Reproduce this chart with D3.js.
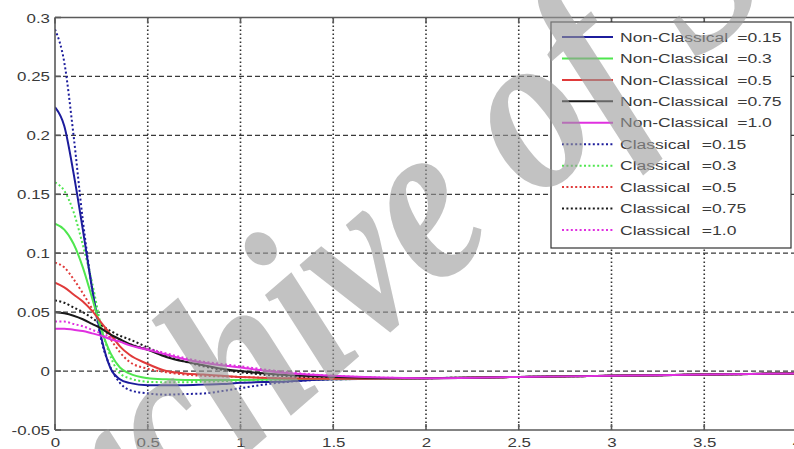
<!DOCTYPE html>
<html>
<head>
<meta charset="utf-8">
<script src="https://cdn.jsdelivr.net/npm/d3@7"></script>
<style>
  html, body { margin: 0; padding: 0; background: #fff; }
  svg { display: block; }
  text { font-family: "Liberation Sans", Arial, sans-serif; }
</style>
</head>
<body>
<svg id="chart" width="794" height="449"></svg>
<script>
// Sample positions along the horizontal axis
const xs = [0, 0.05, 0.1, 0.15, 0.2, 0.25, 0.3, 0.35, 0.4, 0.5, 0.6, 0.7, 0.8, 0.9, 1.0, 1.2, 1.5, 2.0, 2.5, 3.0, 3.5, 4.0];

// Non-classical responses
const nc015 = [0.224, 0.208, 0.168, 0.12, 0.07, 0.028, 0.002, -0.007, -0.010, -0.012, -0.012, -0.012, -0.0115, -0.011, -0.010, -0.009, -0.007, -0.006, -0.005, -0.004, -0.003, -0.002];
const nc03  = [0.125, 0.120, 0.108, 0.088, 0.062, 0.035, 0.015, 0.003, -0.002, -0.006, -0.007, -0.0075, -0.0075, -0.0075, -0.0075, -0.007, -0.0065, -0.006, -0.005, -0.004, -0.003, -0.002];
const nc05  = [0.075, 0.071, 0.065, 0.059, 0.051, 0.041, 0.031, 0.021, 0.014, 0.006, 0.0, -0.002, -0.003, -0.004, -0.005, -0.006, -0.0065, -0.006, -0.005, -0.004, -0.003, -0.002];
const nc075 = [0.050, 0.049, 0.047, 0.044, 0.040, 0.036, 0.031, 0.027, 0.023, 0.018, 0.012, 0.008, 0.005, 0.002, 0.0, -0.003, -0.005, -0.006, -0.005, -0.004, -0.003, -0.002];
const nc10  = [0.036, 0.036, 0.035, 0.034, 0.032, 0.030, 0.027, 0.025, 0.022, 0.018, 0.014, 0.010, 0.007, 0.005, 0.003, -0.001, -0.004, -0.006, -0.005, -0.004, -0.003, -0.002];

// Classical responses
const c015 = [0.290, 0.262, 0.200, 0.128, 0.070, 0.026, 0.003, -0.010, -0.016, -0.019, -0.020, -0.0195, -0.019, -0.017, -0.0145, -0.010, -0.007, -0.006, -0.005, -0.004, -0.003, -0.002];
const c03  = [0.160, 0.153, 0.135, 0.107, 0.075, 0.037, 0.012, -0.002, -0.006, -0.009, -0.0095, -0.0095, -0.009, -0.0085, -0.008, -0.0075, -0.007, -0.006, -0.005, -0.004, -0.003, -0.002];
const c05  = [0.092, 0.088, 0.078, 0.066, 0.053, 0.040, 0.027, 0.016, 0.008, 0.002, -0.001, -0.003, -0.004, -0.0045, -0.005, -0.006, -0.0065, -0.006, -0.005, -0.004, -0.003, -0.002];
const c075 = [0.060, 0.058, 0.054, 0.050, 0.045, 0.039, 0.034, 0.030, 0.027, 0.020, 0.013, 0.008, 0.004, 0.001, -0.001, -0.004, -0.006, -0.006, -0.005, -0.004, -0.003, -0.002];
const c10  = [0.042, 0.042, 0.040, 0.038, 0.035, 0.032, 0.029, 0.026, 0.023, 0.019, 0.015, 0.011, 0.008, 0.006, 0.004, 0.0, -0.004, -0.006, -0.005, -0.004, -0.003, -0.002];

// Legend labels and colours
const paramLabels = ["=0.15", "=0.3", "=0.5", "=0.75", "=1.0"];
const seriesColors = ["#1c1c9c", "#4fe64f", "#e03a3a", "#1a1a1a", "#e030e0"];

// Tick values and labels
const xTicks = [0, 0.5, 1, 1.5, 2, 2.5, 3, 3.5, 4];
const xTickLabels = ["0", "0.5", "1", "1.5", "2", "2.5", "3", "3.5", "4"];
const yTicks = [-0.05, 0, 0.05, 0.1, 0.15, 0.2, 0.25, 0.3];
const yTickLabels = ["-0.05", "0", "0.05", "0.1", "0.15", "0.2", "0.25", "0.3"];

const ncSeries = [nc015, nc03, nc05, nc075, nc10];
const cSeries = [c015, c03, c05, c075, c10];

const svg = d3.select("#chart");
const stretch = 1.3; // horizontal text stretch

const plot = { left: 55, right: 797, top: 17.5, bottom: 430 };
const x = d3.scaleLinear().domain([0, 4]).range([plot.left, plot.right]);
const y = d3.scaleLinear().domain([-0.05, 0.3]).range([plot.bottom, plot.top]);

svg.append("rect").attr("width", 794).attr("height", 449).attr("fill", "#fff");

svg.append("clipPath").attr("id", "clip")
  .append("rect")
  .attr("x", plot.left).attr("y", plot.top)
  .attr("width", plot.right - plot.left).attr("height", plot.bottom - plot.top);

// Grid
const grid = svg.append("g");
grid.selectAll("line.h").data(yTicks.slice(1, -1)).join("line")
  .attr("x1", plot.left).attr("x2", plot.right)
  .attr("y1", d => y(d)).attr("y2", d => y(d))
  .attr("stroke", "#3a3a3a").attr("stroke-width", 1.2)
  .attr("stroke-dasharray", "5,3");
grid.selectAll("line.v").data(xTicks.slice(1, -1)).join("line")
  .attr("x1", d => x(d)).attr("x2", d => x(d))
  .attr("y1", plot.top).attr("y2", plot.bottom)
  .attr("stroke", "#333").attr("stroke-width", 1.6)
  .attr("stroke-dasharray", "1.6,2.4");

// Curves
const line = d3.line()
  .x((d, i) => x(xs[i]))
  .y(d => y(d))
  .curve(d3.curveMonotoneX);

const curves = svg.append("g").attr("clip-path", "url(#clip)");
cSeries.forEach((s, i) => {
  curves.append("path").datum(s)
    .attr("d", line).attr("fill", "none")
    .attr("stroke", seriesColors[i]).attr("stroke-width", 2)
    .attr("stroke-dasharray", "2,2.4");
});
ncSeries.forEach((s, i) => {
  curves.append("path").datum(s)
    .attr("d", line).attr("fill", "none")
    .attr("stroke", seriesColors[i]).attr("stroke-width", 2);
});

// Axes: d3 places the ticks, labels are then re-positioned with a horizontal stretch
const xAxis = svg.append("g")
  .attr("transform", `translate(0,${plot.bottom})`)
  .call(d3.axisBottom(x).tickValues(xTicks)
    .tickFormat((d, i) => xTickLabels[i]).tickSize(0));
const yAxis = svg.append("g")
  .attr("transform", `translate(${plot.left},0)`)
  .call(d3.axisLeft(y).tickValues(yTicks)
    .tickFormat((d, i) => yTickLabels[i]).tickSize(0));

[xAxis, yAxis].forEach(g => {
  g.select(".domain").remove();
  g.selectAll("text")
    .attr("fill", "#3a3a3a")
    .style("font-size", "13px")
    .attr("x", null).attr("y", null).attr("dy", null);
});
xAxis.selectAll("text")
  .attr("text-anchor", "middle")
  .attr("transform", `translate(0,17) scale(${stretch},1)`);
yAxis.selectAll("text")
  .attr("text-anchor", "end")
  .attr("transform", `translate(-5,4.5) scale(${stretch},1)`);

// Frame and inward ticks
const axisColor = "#5a5a5a";
const frame = svg.append("g").attr("stroke", axisColor).attr("stroke-width", 1.6);
frame.append("line").attr("x1", plot.left).attr("x2", plot.right).attr("y1", plot.bottom).attr("y2", plot.bottom);
frame.append("line").attr("x1", plot.left).attr("x2", plot.right).attr("y1", plot.top).attr("y2", plot.top);
frame.append("line").attr("x1", plot.left).attr("x2", plot.left).attr("y1", plot.top).attr("y2", plot.bottom);
frame.selectAll("line.tb").data(xTicks).join("line")
  .attr("x1", d => x(d)).attr("x2", d => x(d))
  .attr("y1", plot.bottom).attr("y2", plot.bottom - 6);
frame.selectAll("line.tt").data(xTicks).join("line")
  .attr("x1", d => x(d)).attr("x2", d => x(d))
  .attr("y1", plot.top).attr("y2", plot.top + 6);
frame.selectAll("line.tl").data(yTicks).join("line")
  .attr("x1", plot.left).attr("x2", plot.left + 6)
  .attr("y1", d => y(d)).attr("y2", d => y(d));

// Legend
const legend = svg.append("g");
legend.append("rect")
  .attr("x", 551).attr("y", 22).attr("width", 240).attr("height", 226)
  .attr("fill", "#fff").attr("stroke", "#333").attr("stroke-width", 1.2);

const legendRows = [];
paramLabels.forEach((p, i) => legendRows.push({ name: "Non-Classical", p, color: seriesColors[i], dotted: false, gap: 7 }));
paramLabels.forEach((p, i) => legendRows.push({ name: "Classical", p, color: seriesColors[i], dotted: true, gap: 9 }));

const rowY = d3.scaleLinear().domain([0, 9]).range([37, 230]);
legendRows.forEach((r, i) => {
  const yy = rowY(i);
  legend.append("line")
    .attr("x1", 562).attr("x2", 613).attr("y1", yy).attr("y2", yy)
    .attr("stroke", r.color).attr("stroke-width", 2)
    .attr("stroke-dasharray", r.dotted ? "2,2.4" : null);
  const t = legend.append("text")
    .attr("transform", `translate(620,${yy + 4.7}) scale(${stretch},1)`)
    .attr("fill", "#3a3a3a")
    .style("font-size", "13.5px");
  t.append("tspan").text(r.name);
  t.append("tspan").attr("dx", r.gap).text(r.p);
});

// Watermark
svg.append("g")
  .attr("transform", "translate(447,207) rotate(-41) translate(0,55) scale(1,1.2)")
  .append("text")
  .attr("text-anchor", "middle")
  .attr("fill", "#9a9a9a")
  .attr("fill-opacity", 0.6)
  .style("font-family", "'Liberation Serif', 'Times New Roman', serif")
  .style("font-weight", "bold")
  .style("font-style", "italic")
  .style("font-size", "196px")
  .text("Archive of SID");
</script>
</body>
</html>
